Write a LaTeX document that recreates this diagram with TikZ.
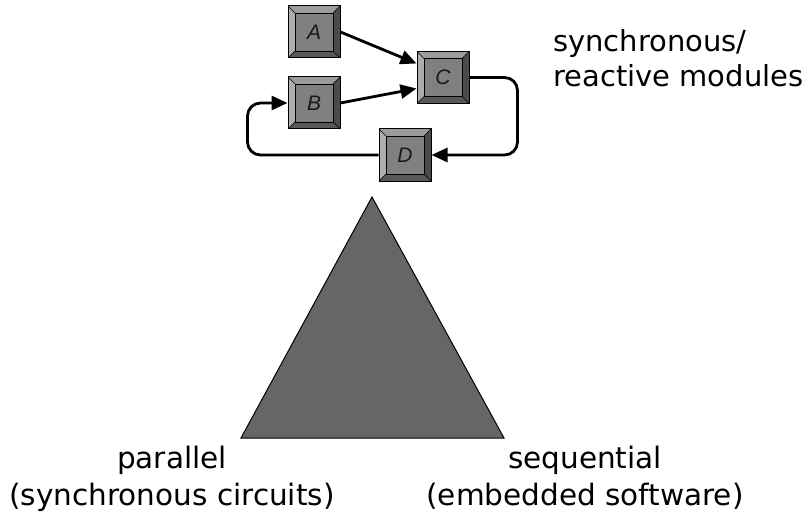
\documentclass[tikz,border=0pt]{standalone}
\usepackage{fontspec}
\setmainfont{DejaVu Sans}
\newfontfamily\keyfont{Liberation Sans}
\usetikzlibrary{arrows.meta,calc}

\definecolor{keyface}{HTML}{808080}
\definecolor{keytop}{HTML}{9C9C9C}
\definecolor{keyleft}{HTML}{ADADAD}
\definecolor{keybottom}{HTML}{595959}
\definecolor{keyright}{HTML}{4B4B4B}
\definecolor{trifill}{HTML}{666666}

\tikzset{
  keybox/.style={
    draw=black, line width=1pt, fill=keyface,
    minimum size=52pt, inner sep=0pt,
    font=\keyfont\itshape\fontsize{21}{21}\selectfont, text=black!90,
    path picture={
      \coordinate (nw) at (path picture bounding box.north west);
      \coordinate (ne) at (path picture bounding box.north east);
      \coordinate (sw) at (path picture bounding box.south west);
      \coordinate (se) at (path picture bounding box.south east);
      \coordinate (inw) at ($(nw)+(7pt,-7pt)$);
      \coordinate (ine) at ($(ne)+(-7pt,-7pt)$);
      \coordinate (isw) at ($(sw)+(7pt,7pt)$);
      \coordinate (ise) at ($(se)+(-7pt,7pt)$);
      \fill[keytop] (nw) -- (ne) -- (ine) -- (inw) -- cycle;
      \fill[keyleft] (nw) -- (inw) -- (isw) -- (sw) -- cycle;
      \fill[keybottom] (sw) -- (isw) -- (ise) -- (se) -- cycle;
      \fill[keyright] (ne) -- (se) -- (ise) -- (ine) -- cycle;
      \draw[line width=0.8pt] (inw) -- (ine) -- (ise) -- (isw) -- cycle;
      \draw[line width=0.6pt] (nw) -- (inw) (ne) -- (ine) (sw) -- (isw) (se) -- (ise);
    }},
  link/.style={line width=2.8pt, -{Triangle[length=16pt,width=14pt]}},
  caption/.style={inner sep=0pt, align=center, font=\fontsize{29.5}{37}\selectfont},
}

\begin{document}
\begin{tikzpicture}[x=1pt,y=-1pt]
  \useasboundingbox (0,0) rectangle (811,516);

  % reactive modules
  \node[keybox] (A) at (314,32) {A};
  \node[keybox] (B) at (314,103) {B};
  \node[keybox] (C) at (443,77.5) {C};
  \node[keybox] (D) at (405,155) {D};

  \draw[link] (A.east) -- ([yshift=14pt]C.west);
  \draw[link] (B.east) -- ([yshift=-11pt]C.west);
  \draw[link, rounded corners=13pt] (C.east) -- ++(48,0) |- (D.east);
  \draw[link, rounded corners=13pt] (D.west) -- ++(-131,0) |- (B.west);

  \node[inner sep=0pt, anchor=north west, align=left,
        font=\fontsize{29}{35}\selectfont] (sr) at (553,29.5)
    {synchronous/\\reactive modules};

  % the triangle
  \coordinate (apex) at (372,197);
  \coordinate (left) at (241,438);
  \coordinate (right) at (504,438);
  \draw[fill=trifill, line width=1pt, line join=miter] (apex) -- (left) -- (right) -- cycle;

  \node[caption, anchor=north] (par) at (172,445.6) {parallel\\(synchronous circuits)};
  \node[caption, anchor=north] (seq) at (585,445.6) {sequential\\(embedded software)};
\end{tikzpicture}
\end{document}
